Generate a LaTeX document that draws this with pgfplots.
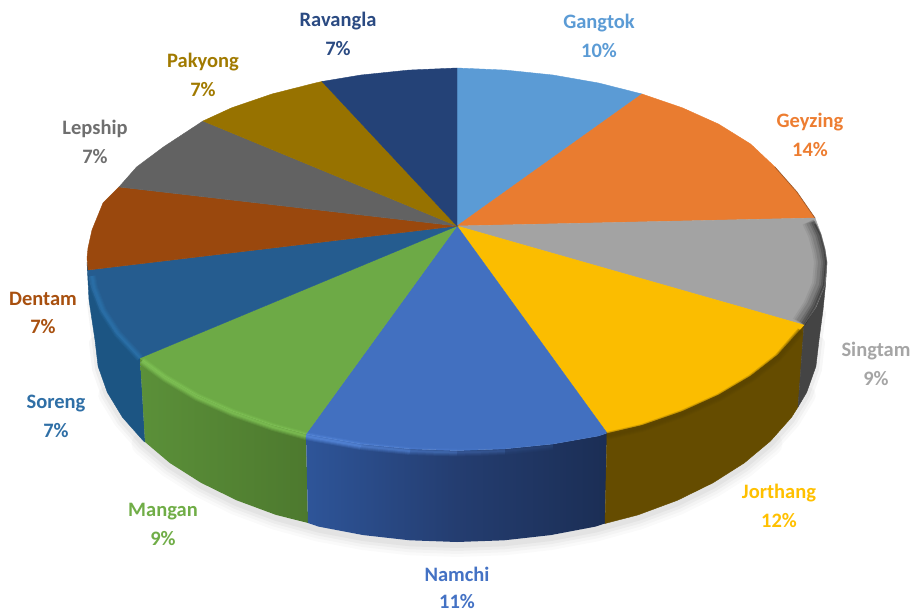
\documentclass[border=0pt]{standalone}
\usepackage{pgfplots}
\pgfplotsset{compat=1.18}
\usepackage{fontspec}
\setmainfont{Carlito}
\definecolor{cGangtok}{HTML}{5B9BD5}
\definecolor{cGeyzing}{HTML}{E97C30}
\definecolor{cSingtam}{HTML}{A3A3A3}
\definecolor{cJorthang}{HTML}{FBBD00}
\definecolor{cNamchi}{HTML}{4270C0}
\definecolor{cMangan}{HTML}{6DAA46}
\definecolor{cSoreng}{HTML}{255C8F}
\definecolor{cDentam}{HTML}{9A480D}
\definecolor{cLepship}{HTML}{626262}
\definecolor{cPakyong}{HTML}{977200}
\definecolor{cRavangla}{HTML}{244277}
\definecolor{sSoreng}{HTML}{1C5583}
\definecolor{sManganA}{HTML}{5B9039}
\definecolor{sManganB}{HTML}{4D792E}
\definecolor{sNamchiA}{HTML}{2E5599}
\definecolor{sNamchiB}{HTML}{243D70}
\definecolor{sNamchiC}{HTML}{1B2E55}
\definecolor{sJorthang}{HTML}{654C00}
\definecolor{sSingtam}{HTML}{444444}
\definecolor{hSoreng}{HTML}{2C75AE}
\definecolor{hMangan}{HTML}{86CC5A}
\definecolor{hNamchi}{HTML}{5C90E6}
\definecolor{hDark}{HTML}{5A4400}
\definecolor{tGangtok}{HTML}{5B9BD5}
\definecolor{tGeyzing}{HTML}{ED7D31}
\definecolor{tSingtam}{HTML}{A5A5A5}
\definecolor{tJorthang}{HTML}{FFC000}
\definecolor{tNamchi}{HTML}{4472C4}
\definecolor{tMangan}{HTML}{70AD47}
\definecolor{tSoreng}{HTML}{2F6FA6}
\definecolor{tDentam}{HTML}{A8500F}
\definecolor{tLepship}{HTML}{6F6F6F}
\definecolor{tPakyong}{HTML}{A17A00}
\definecolor{tRavangla}{HTML}{2A4A82}
\newcommand{\sector}[2]{\addplot[draw=#1,line width=0.4pt,fill=#1,forget plot] coordinates {#2} -- cycle;}
\newcommand{\panel}[3]{\addplot[draw=none,left color=#1,right color=#2,forget plot] coordinates {#3} -- cycle;}
\newcommand{\rim}[3]{%
\addplot[draw=#1,line width=8pt,opacity=0.18*#2,forget plot] coordinates {#3};
\addplot[draw=#1,line width=6pt,opacity=0.25*#2,forget plot] coordinates {#3};
\addplot[draw=#1,line width=4pt,opacity=0.3*#2,forget plot] coordinates {#3};
\addplot[draw=#1,line width=2pt,opacity=0.4*#2,forget plot] coordinates {#3};}
\newcommand{\lbl}[5]{%
\node[font=\bfseries\fontsize{20.5bp}{20.5bp}\selectfont,text=#1] at (axis cs:#2,#3+1.2) {#4};
\node[font=\bfseries\fontsize{20.5bp}{20.5bp}\selectfont,text=#1] at (axis cs:#2,#3+28.2) {#5};}
\begin{document}
\begin{tikzpicture}
\begin{axis}[
  width=914bp,height=611bp,scale only axis,
  xmin=0,xmax=914,ymin=0,ymax=611,y dir=reverse,
  hide axis,clip=false]
% soft shadow
\addplot[draw=black,line width=24pt,line cap=round,opacity=0.02,forget plot] coordinates {(143.5,444) (169.8,466) (201,485.8) (236.6,503.3) (276,517.9) (318.5,529.6) (363.3,538.1) (409.8,543.3) (457,545) (504.2,543.3) (550.7,538.1) (595.5,529.6) (638,517.9) (677.4,503.3) (713,485.8) (744.2,466) (770.5,444)};
\addplot[draw=black,line width=18pt,line cap=round,opacity=0.025,forget plot] coordinates {(107.3,395.3) (122.5,420.3) (143.5,444) (169.8,466) (201,485.8) (236.6,503.3) (276,517.9) (318.5,529.6) (363.3,538.1) (409.8,543.3) (457,545) (504.2,543.3) (550.7,538.1) (595.5,529.6) (638,517.9) (677.4,503.3) (713,485.8) (744.2,466) (770.5,444) (791.5,420.3) (806.7,395.3)};
\addplot[draw=black,line width=12pt,line cap=round,opacity=0.03,forget plot] coordinates {(95,343) (98.1,369.4) (107.3,395.3) (122.5,420.3) (143.5,444) (169.8,466) (201,485.8) (236.6,503.3) (276,517.9) (318.5,529.6) (363.3,538.1) (409.8,543.3) (457,545) (504.2,543.3) (550.7,538.1) (595.5,529.6) (638,517.9) (677.4,503.3) (713,485.8) (744.2,466) (770.5,444) (791.5,420.3) (806.7,395.3) (815.9,369.4) (819,343)};
\addplot[draw=black,line width=6pt,line cap=round,opacity=0.04,forget plot] coordinates {(90,303) (95,343) (98.1,369.4) (107.3,395.3) (122.5,420.3) (143.5,444) (169.8,466) (201,485.8) (236.6,503.3) (276,517.9) (318.5,529.6) (363.3,538.1) (409.8,543.3) (457,545) (504.2,543.3) (550.7,538.1) (595.5,529.6) (638,517.9) (677.4,503.3) (713,485.8) (744.2,466) (770.5,444) (791.5,420.3) (806.7,395.3) (815.9,369.4) (819,343) (823,313)};
% side walls
\sector{sSoreng}{(87,262) (88,270) (90.2,283.6) (99.6,308.2) (115.2,332) (140,358) (145,442) (143.5,441) (122.5,417.3) (107.3,392.3) (98.1,366.4) (95,340) (89,300)}
\panel{sManganA}{sManganB}{(140,358) (163.4,375.4) (195.4,394.3) (231.7,410.8) (272,424.8) (306,434) (308,523) (276,514.9) (236.6,500.3) (201,482.8) (169.8,463) (145,442)}
\panel{sNamchiA}{sNamchiB}{(306,434) (315.4,435.9) (361.2,444) (409.7,448.8) (457,450.5) (457,542) (409.8,540.3) (363.3,535.1) (318.5,526.6) (308,523)}
\panel{sNamchiB}{sNamchiC}{(457,450.5) (505.3,448.8) (552.8,444) (598.6,435.9) (607,433) (605,523.5) (595.5,526.6) (550.7,535.1) (504.2,540.3) (457,542)}
\sector{sJorthang}{(607,433) (642,424.8) (682.3,410.8) (718.6,394.3) (750.6,375.4) (777.4,354.5) (804,325) (798,407) (791.5,417.3) (770.5,441) (744.2,463) (713,482.8) (677.4,500.3) (638,514.9) (605,523.5)}
\sector{sSingtam}{(804,325) (816,307) (825,285) (827,262) (825.5,285) (823,310) (819,340) (815.9,366.4) (806.7,392.3) (798,407)}
% top surface
\sector{cGangtok}{(457,226) (457,68) (505.3,70.1) (552.8,75) (598.6,83) (642,94)}
\sector{cGeyzing}{(457,226) (642,94) (682.3,107.8) (718.6,124.1) (750.6,144) (775,167) (797,192) (815,218)}
\sector{cSingtam}{(457,226) (815,218) (821,234) (825,249) (827,262) (825,285) (816,307) (804,325)}
\sector{cJorthang}{(457,226) (804,325) (777.4,354.5) (750.6,375.4) (718.6,394.3) (682.3,410.8) (642,424.8) (607,433)}
\sector{cNamchi}{(457,226) (607,433) (598.6,435.9) (552.8,444) (505.3,448.8) (457,450.5) (409.7,448.8) (361.2,444) (315.4,435.9) (306,434)}
\sector{cMangan}{(457,226) (306,434) (272,424.8) (231.7,410.8) (195.4,394.3) (163.4,375.4) (140,358)}
\sector{cSoreng}{(457,226) (140,358) (115.2,332) (99.6,308.2) (90.2,283.6) (88,270)}
\sector{cDentam}{(457,226) (88,270) (87,258) (88,248) (92,230) (103,203) (119,187)}
\sector{cLepship}{(457,226) (119,187) (136.6,167) (163.4,147) (195.4,126) (203,121)}
\sector{cPakyong}{(457,226) (203,121) (231.7,107.8) (272,94) (315.4,83) (322,81.5)}
\sector{cRavangla}{(457,226) (322,81.5) (361.2,75) (408.7,70.1) (457,68)}
% bevel
\rim{hSoreng}{1}{(92,276) (94,288) (103,311) (118,334) (140,358)}
\rim{hMangan}{1}{(142,361) (165,378) (197,397) (233,413) (273,427) (306,436)}
\rim{hNamchi}{1}{(306,436) (316,438) (361,446)}
\rim{hNamchi}{0.75}{(361,446) (410,451)}
\rim{hNamchi}{0.5}{(410,451) (457,452.5)}
\rim{hNamchi}{0.3}{(457,452.5) (505,451)}
\rim{hNamchi}{0.12}{(505,451) (553,446)}
\rim{hDark}{1.3}{(607,436) (642,428) (682,414) (719,397.5) (751,378.5) (778,357.5) (801,331)}
% inner dark edge of the grey slice
\addplot[draw=black,line width=12pt,opacity=0.06,forget plot] coordinates {(808,222) (814,235) (818,250) (820,262) (818,284) (809,305) (798,322)};
\addplot[draw=black,line width=10pt,opacity=0.08,forget plot] coordinates {(809,222) (815,235) (819,250) (821,262) (819,284) (810,305) (799,322)};
\addplot[draw=black,line width=8pt,opacity=0.1,forget plot] coordinates {(810,222) (816,235) (820,250) (822,262) (820,284) (811,305) (800,322)};
\addplot[draw=black,line width=6pt,opacity=0.13,forget plot] coordinates {(812,222) (818,235) (822,250) (824,262) (822,285) (813,306) (802,323)};
\addplot[draw=black,line width=4pt,opacity=0.18,forget plot] coordinates {(813,222) (819,235) (823,250) (825,262) (823,285) (814,306) (803,324)};
\addplot[draw=black,line width=2pt,opacity=0.25,forget plot] coordinates {(815,224) (820.5,235) (824.5,250) (826,262) (824,285) (815,307) (804,325)};
\addplot[draw=black,line width=0.8pt,opacity=0.3,forget plot] coordinates {(775,167) (797,192) (815,218)};
% labels
\lbl{tGangtok}{599}{22}{Gangtok}{10\%}
\lbl{tGeyzing}{810}{121}{Geyzing}{14\%}
\lbl{tSingtam}{876}{350}{Singtam}{9\%}
\lbl{tJorthang}{779}{492}{Jorthang}{12\%}
\lbl{tNamchi}{457}{573}{Namchi}{11\%}
\lbl{tMangan}{163}{510}{Mangan}{9\%}
\lbl{tSoreng}{56}{402}{Soreng}{7\%}
\lbl{tDentam}{43}{298}{Dentam}{7\%}
\lbl{tLepship}{95}{128}{Lepship}{7\%}
\lbl{tPakyong}{203}{61}{Pakyong}{7\%}
\lbl{tRavangla}{338}{20}{Ravangla}{7\%}
\end{axis}
\useasboundingbox (current axis.south west) rectangle (current axis.north east);
\end{tikzpicture}
\end{document}
